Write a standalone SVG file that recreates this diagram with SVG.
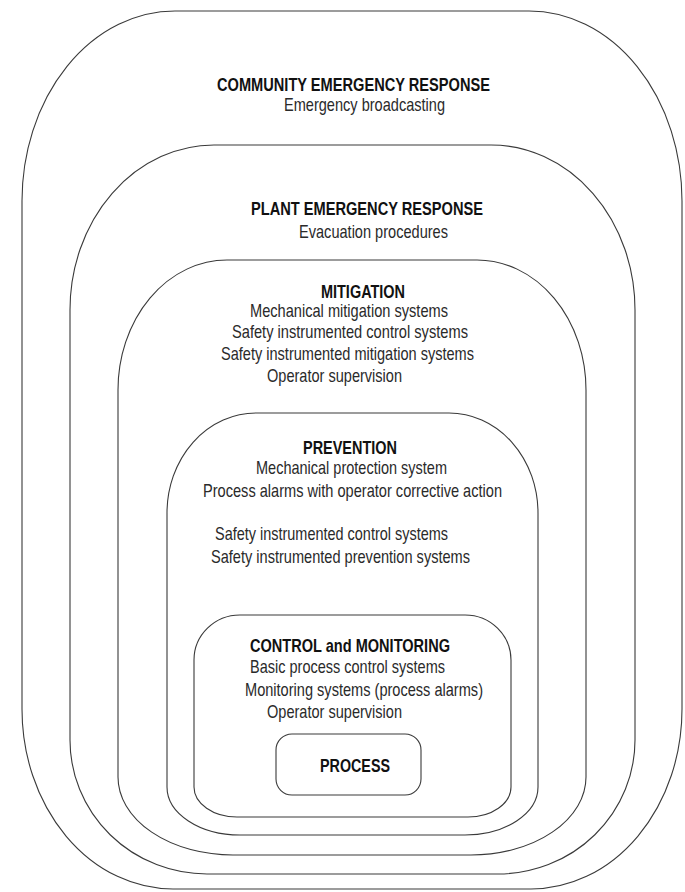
<svg xmlns="http://www.w3.org/2000/svg" width="685" height="892" viewBox="0 0 685 892">
  <style>
    .layer { fill: none; stroke: #3a3a3a; stroke-width: 1.1; }
    text { font-family: "Liberation Sans Narrow", "Liberation Sans", Arial, sans-serif; font-size: 19px; }
    .head { font-weight: bold; fill: #111; }
    .item { fill: #2a2a2a; }
  </style>
  <rect x="0" y="0" width="685" height="892" fill="#ffffff"/>

  <!-- Nested protection layers, outermost first -->
  <g id="community">
    <path class="layer" d="M 175 11 H 529 A 153 190 0 0 1 682 201 V 709 A 151 180 0 0 1 531 889 H 173 A 151 180 0 0 1 22 709 V 201 A 153 190 0 0 1 175 11 Z"/>
    <text class="head" x="217" y="91" textLength="273" lengthAdjust="spacingAndGlyphs">COMMUNITY EMERGENCY RESPONSE</text>
    <text class="item" x="284" y="111" textLength="161" lengthAdjust="spacingAndGlyphs">Emergency broadcasting</text>
  </g>

  <g id="plant">
    <path class="layer" d="M 214 145 H 491 A 144 165 0 0 1 635 310 V 740 A 137 134 0 0 1 498 874 H 207 A 137 134 0 0 1 70 740 V 310 A 144 165 0 0 1 214 145 Z"/>
    <text class="head" x="251" y="215" textLength="232" lengthAdjust="spacingAndGlyphs">PLANT EMERGENCY RESPONSE</text>
    <text class="item" x="299" y="238" textLength="149" lengthAdjust="spacingAndGlyphs">Evacuation procedures</text>
  </g>

  <g id="mitigation">
    <path class="layer" d="M 227 260 H 477 A 109 130 0 0 1 586 390 V 777 A 115 78 0 0 1 471 855 H 233 A 115 78 0 0 1 118 777 V 390 A 109 130 0 0 1 227 260 Z"/>
    <text class="head" x="321" y="298" textLength="84" lengthAdjust="spacingAndGlyphs">MITIGATION</text>
    <text class="item" x="250" y="317" textLength="198" lengthAdjust="spacingAndGlyphs">Mechanical mitigation systems</text>
    <text class="item" x="232" y="338" textLength="236" lengthAdjust="spacingAndGlyphs">Safety instrumented control systems</text>
    <text class="item" x="221" y="360" textLength="253" lengthAdjust="spacingAndGlyphs">Safety instrumented mitigation systems</text>
    <text class="item" x="267" y="382" textLength="135" lengthAdjust="spacingAndGlyphs">Operator supervision</text>
  </g>

  <g id="prevention">
    <path class="layer" d="M 256 413 H 449 A 89 100 0 0 1 538 513 V 787 A 73 48 0 0 1 465 835 H 240 A 73 48 0 0 1 167 787 V 513 A 89 100 0 0 1 256 413 Z"/>
    <text class="head" x="303" y="454" textLength="94" lengthAdjust="spacingAndGlyphs">PREVENTION</text>
    <text class="item" x="256" y="474" textLength="191" lengthAdjust="spacingAndGlyphs">Mechanical protection system</text>
    <text class="item" x="203" y="497" textLength="299" lengthAdjust="spacingAndGlyphs">Process alarms with operator corrective action</text>
    <text class="item" x="215" y="540" textLength="233" lengthAdjust="spacingAndGlyphs">Safety instrumented control systems</text>
    <text class="item" x="211" y="563" textLength="259" lengthAdjust="spacingAndGlyphs">Safety instrumented prevention systems</text>
  </g>

  <g id="control">
    <path class="layer" d="M 240 615 H 465 A 46 45 0 0 1 511 660 V 787 A 43 30 0 0 1 468 817 H 237 A 43 30 0 0 1 194 787 V 660 A 46 45 0 0 1 240 615 Z"/>
    <text class="head" x="250" y="652" textLength="200" lengthAdjust="spacingAndGlyphs">CONTROL and MONITORING</text>
    <text class="item" x="250" y="673" textLength="195" lengthAdjust="spacingAndGlyphs">Basic process control systems</text>
    <text class="item" x="245" y="696" textLength="238" lengthAdjust="spacingAndGlyphs">Monitoring systems (process alarms)</text>
    <text class="item" x="267" y="718" textLength="135" lengthAdjust="spacingAndGlyphs">Operator supervision</text>
  </g>

  <g id="process">
    <rect class="layer" x="276" y="734" width="145" height="61" rx="16" ry="16"/>
    <text class="head" x="320" y="772" textLength="70" lengthAdjust="spacingAndGlyphs">PROCESS</text>
  </g>

  <!-- no connectors: the layers are nested, not linked -->
  <g id="connectors"/>
</svg>
